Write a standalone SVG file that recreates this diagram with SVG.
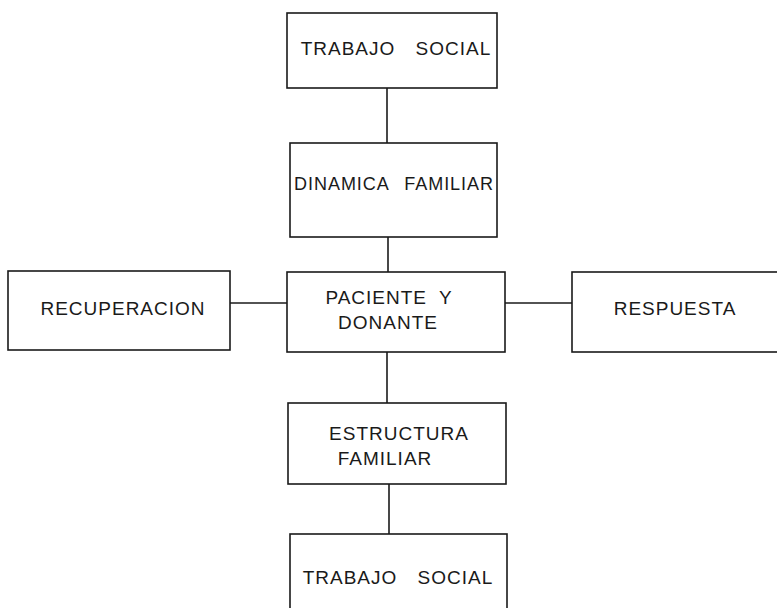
<svg xmlns="http://www.w3.org/2000/svg" width="777" height="608" viewBox="0 0 777 608">
<style>
.box{fill:none;stroke:#1a1a1a;stroke-width:1.6}
.con{stroke:#1a1a1a;stroke-width:1.6;fill:none}
text{font-family:"Liberation Sans",Arial,sans-serif;font-size:19px;fill:#1a1a1a;text-anchor:middle;letter-spacing:1px}
</style>
<rect width="777" height="608" fill="#fff"/>
<g id="connectors">
<line class="con" x1="387" y1="88" x2="387" y2="143"/>
<line class="con" x1="388" y1="237" x2="388" y2="272"/>
<line class="con" x1="230" y1="303" x2="287" y2="303"/>
<line class="con" x1="505" y1="303" x2="572" y2="303"/>
<line class="con" x1="387" y1="352" x2="387" y2="403"/>
<line class="con" x1="389" y1="484" x2="389" y2="534"/>
</g>
<g id="trabajo-social-top">
<rect class="box" x="287" y="13" width="210" height="75"/>
<text x="396" y="55" word-spacing="14">TRABAJO SOCIAL</text>
</g>
<g id="dinamica-familiar">
<rect class="box" x="290" y="143" width="207" height="94"/>
<text x="394" y="190" word-spacing="10" letter-spacing="0" textLength="200" lengthAdjust="spacingAndGlyphs">DINAMICA FAMILIAR</text>
</g>
<g id="recuperacion">
<rect class="box" x="8" y="271" width="222" height="79"/>
<text x="123" y="315" letter-spacing="2">RECUPERACION</text>
</g>
<g id="paciente-donante">
<rect class="box" x="287" y="272" width="218" height="80"/>
<text x="389" y="304" word-spacing="6">PACIENTE Y</text>
<text x="388" y="329">DONANTE</text>
</g>
<g id="respuesta">
<rect class="box" x="572" y="272" width="210" height="80"/>
<text x="675" y="315" letter-spacing="2">RESPUESTA</text>
</g>
<g id="estructura-familiar">
<rect class="box" x="288" y="403" width="218" height="81"/>
<text x="399" y="440" letter-spacing="2">ESTRUCTURA</text>
<text x="385" y="465">FAMILIAR</text>
</g>
<g id="trabajo-social-bottom">
<rect class="box" x="290" y="534" width="217" height="90"/>
<text x="398" y="584" word-spacing="14">TRABAJO SOCIAL</text>
</g>
</svg>
